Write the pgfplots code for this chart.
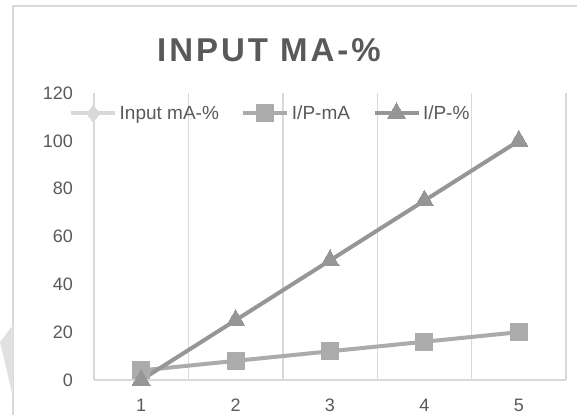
\documentclass[border=0pt]{standalone}
\usepackage{pgfplots}
\pgfplotsset{compat=1.18}
\usepackage{fontspec}
\setmainfont{Liberation Sans}
\newfontfamily\titlefont[LetterSpace=9]{Liberation Sans}
\definecolor{txt}{HTML}{595959}
\definecolor{grid}{HTML}{D9D9D9}
\definecolor{sA}{HTML}{D9D9D9}
\definecolor{sB}{HTML}{ABABAB}
\definecolor{sC}{HTML}{969696}

\begin{document}
\begin{tikzpicture}
% chart frame and page edge
\draw[grid, line width=1.2pt] (13pt,0pt) -- (13pt,409pt) -- (577pt,409pt);
\fill[grid!80] (13pt,90pt) -- (0pt,73pt) -- (13pt,18pt) -- cycle;
\node[font=\titlefont\bfseries\fontsize{33}{36}\selectfont, text=txt] at (269pt,365pt) {INPUT MA-\%};
\begin{axis}[
    at={(94pt,35pt)}, anchor=south west,
    scale only axis, width=472pt, height=287pt,
    xmin=0.5, xmax=5.5, ymin=0, ymax=120,
    xtick={1,2,3,4,5}, ytick={0,20,...,120},
    extra x ticks={1.5,2.5,3.5,4.5,5.5},
    extra x tick labels={},
    extra x tick style={grid=major, major grid style={grid, line width=1.4pt}},
    major tick length=0pt,
    axis x line=bottom, axis y line=left,
    axis line style={grid, line width=1.4pt, -},
    /pgf/number format/assume math mode=true,
    tick label style={font=\fontsize{18}{20}\selectfont, text=txt},
    yticklabel style={inner sep=0pt, xshift=-21pt},
    xticklabel style={inner sep=0pt, yshift=-19pt},
    clip=false,
    legend columns=3,
    legend style={at={(-0.053,0.93)}, anchor=west, draw=none, fill=none,
        inner sep=0pt, font=\fontsize{19}{21}\selectfont, text=txt,
        nodes={inner sep=2.5pt},
        /tikz/every even column/.append style={column sep=20pt}},
    legend image code/.code={
        \draw[#1, mark repeat=2, mark phase=2] plot coordinates {(0pt,0pt) (22pt,0pt) (44pt,0pt)};},
]
\addlegendimage{sA, line width=4pt, mark=diamond*, mark size=8.5pt, mark options={solid, line width=0pt}}
\addlegendentry{Input mA-\%}
\addplot[sB, line width=4pt, mark=square*, mark size=8.5pt, mark options={line width=0pt}] coordinates {
    (1,4) (2,8) (3,12) (4,16) (5,20)};
\addlegendentry{I/P-mA}
\addplot[sC, line width=4pt, mark=triangle*, mark size=10.5pt, mark options={line width=0pt}] coordinates {
    (1,0) (2,25) (3,50) (4,75) (5,100)};
\addlegendentry{I/P-\%}
\end{axis}
\pgfresetboundingbox
\path[use as bounding box] (0pt,0pt) rectangle (577pt,415pt);
\end{tikzpicture}
\end{document}
